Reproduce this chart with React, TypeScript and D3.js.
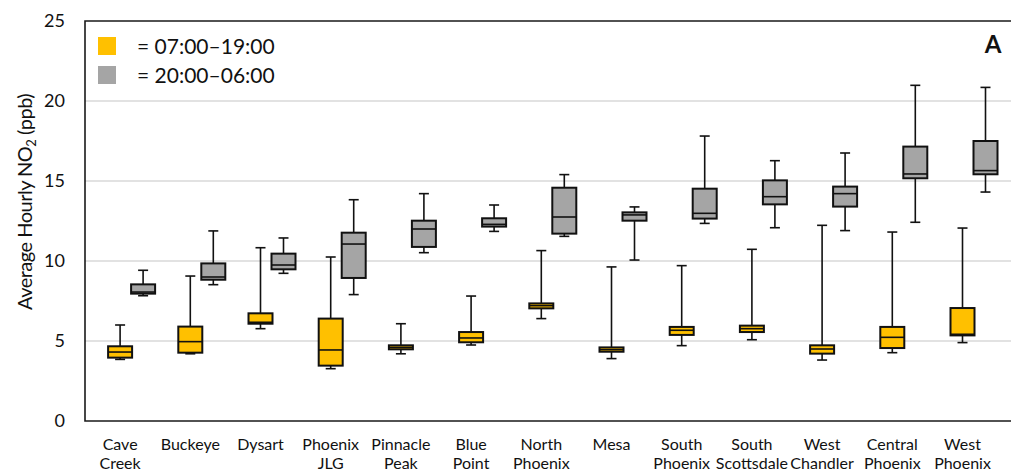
import React, { useEffect, useRef } from 'react'
import * as d3 from 'd3'

// sites along the x axis (two-line labels)
const sites = [
  ['Cave', 'Creek'], ['Buckeye'], ['Dysart'], ['Phoenix', 'JLG'], ['Pinnacle', 'Peak'],
  ['Blue', 'Point'], ['North', 'Phoenix'], ['Mesa'], ['South', 'Phoenix'], ['South', 'Scottsdale'],
  ['West', 'Chandler'], ['Central', 'Phoenix'], ['West', 'Phoenix'],
]
const siteNames = sites.map((s) => s.join(' '))

// [whisker min, q1, median, q3, whisker max]
const dayStats = [
  [3.85, 3.96, 4.31, 4.67, 6.0],
  [4.2, 4.27, 4.96, 5.9, 9.06],
  [5.77, 6.08, 6.17, 6.73, 10.83],
  [3.27, 3.46, 4.44, 6.4, 10.25],
  [4.2, 4.48, 4.6, 4.73, 6.08],
  [4.75, 4.92, 5.19, 5.56, 7.81],
  [6.4, 7.04, 7.21, 7.35, 10.65],
  [3.9, 4.33, 4.46, 4.6, 9.63],
  [4.71, 5.38, 5.67, 5.88, 9.71],
  [5.08, 5.56, 5.77, 5.96, 10.73],
  [3.81, 4.21, 4.5, 4.73, 12.23],
  [4.27, 4.56, 5.23, 5.88, 11.81],
  [4.9, 5.35, 5.42, 7.06, 12.06],
]
const nightStats = [
  [7.83, 7.96, 8.06, 8.54, 9.42],
  [8.52, 8.83, 9.0, 9.85, 11.88],
  [9.23, 9.48, 9.75, 10.46, 11.44],
  [7.9, 8.94, 11.06, 11.77, 13.83],
  [10.52, 10.88, 12.0, 12.52, 14.21],
  [11.85, 12.15, 12.29, 12.67, 13.5],
  [11.54, 11.71, 12.75, 14.58, 15.4],
  [10.06, 12.52, 12.88, 13.04, 13.38],
  [12.35, 12.65, 12.98, 14.52, 17.81],
  [12.08, 13.54, 14.02, 15.04, 16.27],
  [11.9, 13.4, 14.21, 14.65, 16.75],
  [12.42, 15.17, 15.44, 17.15, 20.98],
  [14.31, 15.42, 15.65, 17.5, 20.85],
]
const yTicks = [0, 5, 10, 15, 20, 25]
const legendLabels = ['= 07:00\u201319:00', '= 20:00\u201306:00']
const colors = ['#FFC000', '#A5A5A5']

const App = () => {
  const ref = useRef<SVGSVGElement>(null)

  useEffect(() => {
    const width = 1011
    const height = 470
    const left = 85
    const top = 21
    const bottom = 421
    const step = 70.2

    const svg = d3.select(ref.current)
    svg.selectAll('*').remove()
    svg.attr('width', width).attr('height', height)

    const x = d3.scaleBand().domain(siteNames).range([left, left + step * siteNames.length])
    const y = d3.scaleLinear().domain([0, 25]).range([bottom, top])

    // gridlines
    svg.append('g')
      .selectAll('line')
      .data(yTicks.filter((t) => t > 0 && t < 25))
      .enter()
      .append('line')
      .attr('x1', left).attr('x2', width + 5)
      .attr('y1', (d) => y(d)).attr('y2', (d) => y(d))
      .attr('stroke', '#c6c6c6').attr('stroke-width', 1.2)

    // y axis labels
    const yAxis = svg.append('g')
      .attr('transform', `translate(${left},0)`)
      .call(d3.axisLeft(y).tickValues(yTicks).tickSize(0).tickPadding(20))
    yAxis.select('.domain').remove()
    yAxis.selectAll('text')
      .attr('font-family', 'Lato, sans-serif').attr('font-size', 18).attr('fill', '#111')

    // frame
    svg.append('path')
      .attr('d', `M${width + 5},${y(25)}H${left}V${bottom}H${width + 5}`)
      .attr('fill', 'none').attr('stroke', '#1a1a1a').attr('stroke-width', 1.6)

    const boxW = 24
    const capW = 10
    const drawBoxes = (stats: number[][], offset: number, fill: string) => {
      const g = svg.append('g')
        .selectAll('g')
        .data(stats)
        .enter()
        .append('g')
        .attr('transform', (_, i) => `translate(${(x(siteNames[i]) as number) + x.bandwidth() / 2 + offset},0)`)
      const stroke = { stroke: '#111', width: 1.6 }
      g.append('line')
        .attr('y1', (d) => y(d[4])).attr('y2', (d) => y(d[0]))
        .attr('stroke', stroke.stroke).attr('stroke-width', stroke.width)
      g.append('line')
        .attr('x1', -capW / 2).attr('x2', capW / 2)
        .attr('y1', (d) => y(d[4])).attr('y2', (d) => y(d[4]))
        .attr('stroke', stroke.stroke).attr('stroke-width', stroke.width)
      g.append('line')
        .attr('x1', -capW / 2).attr('x2', capW / 2)
        .attr('y1', (d) => y(d[0])).attr('y2', (d) => y(d[0]))
        .attr('stroke', stroke.stroke).attr('stroke-width', stroke.width)
      g.append('rect')
        .attr('x', -boxW / 2).attr('width', boxW)
        .attr('y', (d) => y(d[3])).attr('height', (d) => y(d[1]) - y(d[3]))
        .attr('fill', fill).attr('stroke', stroke.stroke).attr('stroke-width', 2)
      g.append('line')
        .attr('x1', -boxW / 2).attr('x2', boxW / 2)
        .attr('y1', (d) => y(d[2])).attr('y2', (d) => y(d[2]))
        .attr('stroke', stroke.stroke).attr('stroke-width', 1.6)
    }
    drawBoxes(dayStats, 0, colors[0])
    drawBoxes(nightStats, 23, colors[1])

    // x labels
    const xl = svg.append('g')
      .selectAll('text')
      .data(sites)
      .enter()
      .append('text')
      .attr('text-anchor', 'middle')
      .attr('font-family', 'Lato, sans-serif').attr('font-size', 16).attr('fill', '#111')
      .attr('transform', (_, i) => `translate(${(x(siteNames[i]) as number) + x.bandwidth() / 2},450)`)
    xl.selectAll('tspan')
      .data((d) => d)
      .enter()
      .append('tspan')
      .attr('x', 0)
      .attr('y', (_, j) => j * 19)
      .text((d) => d)

    // y title
    const title = svg.append('text')
      .attr('transform', `translate(32,202) rotate(-90)`)
      .attr('text-anchor', 'middle')
      .attr('font-family', 'Lato, sans-serif').attr('font-size', 20).attr('fill', '#111')
      .attr('letter-spacing', -0.5)
    title.append('tspan').text('Average Hourly NO')
    title.append('tspan').attr('font-size', 13).attr('dy', 4).text('2')
    title.append('tspan').attr('dy', -4).text(' (ppb)')

    // legend
    const lg = svg.append('g')
      .selectAll('g')
      .data(legendLabels)
      .enter()
      .append('g')
      .attr('transform', (_, i) => `translate(0,${i * 29})`)
    lg.append('rect')
      .attr('x', 98).attr('y', 37).attr('width', 18).attr('height', 18)
      .attr('fill', (_, i) => colors[i])
    lg.append('text')
      .attr('x', 137).attr('y', 54)
      .attr('font-family', 'Lato, sans-serif').attr('font-size', 21).attr('fill', '#111')
      .text((d) => d)

    svg.append('text')
      .attr('x', 993).attr('y', 53)
      .attr('text-anchor', 'middle')
      .attr('font-family', 'Lato, sans-serif').attr('font-weight', 'bold').attr('font-size', 24)
      .attr('fill', '#111')
      .text('A')
  }, [])

  return (
    <svg ref={ref} style={{ position: 'absolute', left: 0, top: 0, background: '#fff' }}></svg>
  )
}

export default App
